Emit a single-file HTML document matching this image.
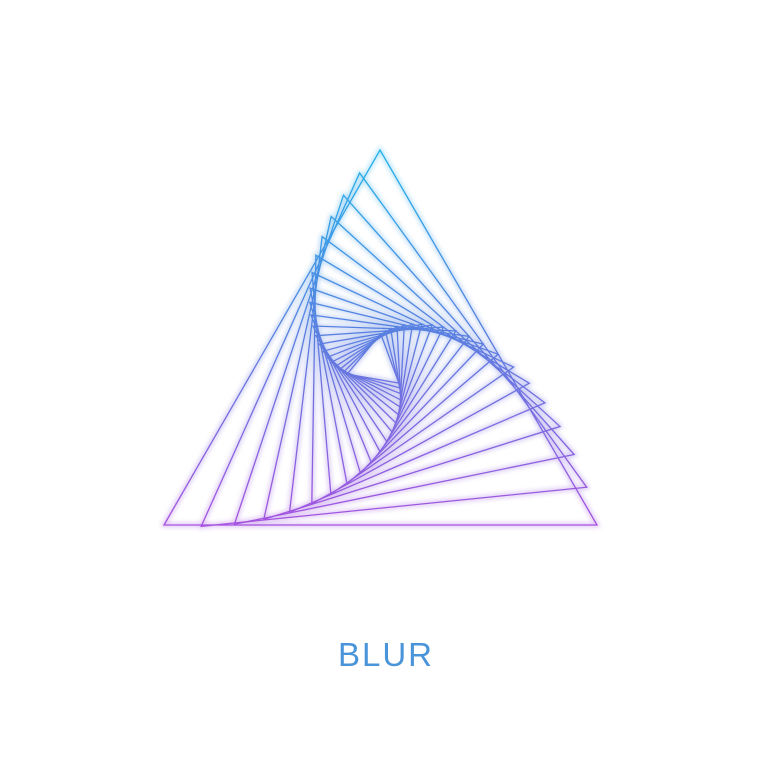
<!DOCTYPE html>
<html><head><meta charset="utf-8"><style>
html,body{margin:0;padding:0;background:#fff;}
#wrap{position:relative;width:762px;height:768px;overflow:hidden;background:#fff;}
#title{position:absolute;left:5px;width:762px;top:635px;text-align:center;font-family:"Liberation Sans",sans-serif;font-size:33px;font-weight:300;letter-spacing:2px;color:#4a94da;line-height:40px;}
</style></head><body>
<div id="wrap">
<svg id="art" width="762" height="768" viewBox="0 0 762 768">
<defs>
<linearGradient id="g" gradientUnits="userSpaceOnUse" x1="0" y1="150" x2="0" y2="525">
<stop offset="0" stop-color="#1fb2ea"/>
<stop offset="0.5" stop-color="#5a7ee0"/>
<stop offset="1" stop-color="#a552e0"/>
</linearGradient>
<filter id="glow" x="-10%" y="-10%" width="120%" height="120%"><feGaussianBlur stdDeviation="2.5"/></filter>
</defs>
<g id="glowLayer" filter="url(#glow)" opacity="0.35"></g>
<g id="lineLayer"></g>
</svg>
<div id="title">BLUR</div>
</div>
<script>
const baseTriangle = [[164,525],[597,525],[380,150]];
const spiralCenter = [372,366];
const scaleStep = [0.895];
const rotateStepDeg = [-5.8];
const triangleCount = [20];
const NS='http://www.w3.org/2000/svg';
const lineLayer=document.getElementById('lineLayer');
const glowLayer=document.getElementById('glowLayer');
for(let k=0;k<triangleCount[0];k++){
  const s=Math.pow(scaleStep[0],k), a=rotateStepDeg[0]*k*Math.PI/180;
  const c=Math.cos(a), sn=Math.sin(a);
  const pts=baseTriangle.map(p=>{
    const dx=p[0]-spiralCenter[0], dy=p[1]-spiralCenter[1];
    return [(spiralCenter[0]+s*(dx*c-dy*sn)).toFixed(2),(spiralCenter[1]+s*(dx*sn+dy*c)).toFixed(2)].join(',');
  }).join(' ');
  [glowLayer,lineLayer].forEach((layer,i)=>{
    const el=document.createElementNS(NS,'polygon');
    el.setAttribute('points',pts);
    el.setAttribute('fill','none');
    el.setAttribute('stroke','url(#g)');
    el.setAttribute('stroke-width',i?'1.3':'4');
    el.setAttribute('stroke-linejoin','miter');
    
    
    layer.appendChild(el);
  });
}
</script>
</body></html>
